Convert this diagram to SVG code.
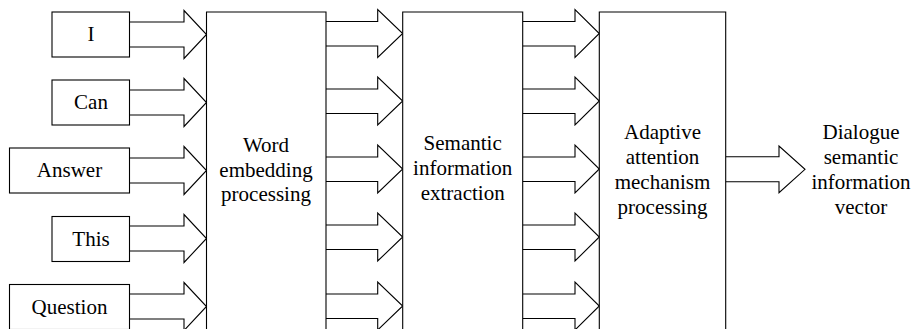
<svg xmlns="http://www.w3.org/2000/svg" width="915" height="329" viewBox="0 0 915 329">
<style>
.b{fill:#fff;stroke:#000;stroke-width:1.1}
.a{fill:#fff;stroke:#000;stroke-width:1.1;stroke-linejoin:miter}
.t{font-family:'Liberation Serif','Times New Roman',serif;font-size:21px;fill:#000;text-anchor:middle}
</style>
<rect width="915" height="329" fill="#fff"/>
<g id="connectors">
<path class="a" d="M129.5,22H184V10.5L206.5,34.5L184,58.5V47H129.5"/>
<path class="a" d="M129.5,90H184V78.5L206.5,102.5L184,126.5V115H129.5"/>
<path class="a" d="M129.5,158H184V146.5L206.5,170.5L184,194.5V183H129.5"/>
<path class="a" d="M129.5,226H184V214.5L206.5,238.5L184,262.5V251H129.5"/>
<path class="a" d="M129.5,294H184V282.5L206.5,306.5L184,330.5V319H129.5"/>
<path class="a" d="M326,21.5H377.7V9.5L402.7,33.5L377.7,57.5V46H326"/>
<path class="a" d="M326,89H377.7V77L402.7,101L377.7,125V113.5H326"/>
<path class="a" d="M326,157H377.7V145L402.7,169L377.7,193V181.5H326"/>
<path class="a" d="M326,225H377.7V213L402.7,237L377.7,261V249.5H326"/>
<path class="a" d="M326,294H377.7V282L402.7,306L377.7,330V318.5H326"/>
<path class="a" d="M522.7,21.5H575V9.5L599.3,33.5L575,57.5V46H522.7"/>
<path class="a" d="M522.7,89H575V77L599.3,101L575,125V113.5H522.7"/>
<path class="a" d="M522.7,157H575V145L599.3,169L575,193V181.5H522.7"/>
<path class="a" d="M522.7,225H575V213L599.3,237L575,261V249.5H522.7"/>
<path class="a" d="M522.7,294H575V282L599.3,306L575,330V318.5H522.7"/>
<path class="a" d="M725.7,156.7H779V146L805,169.3L779,192.7V181.7H725.7"/>
</g>
<g id="n-i"><rect class="b" x="52" y="12" width="77.5" height="45"/><text class="t" x="91" y="41">I</text></g>
<g id="n-can"><rect class="b" x="52" y="80" width="77.5" height="45"/><text class="t" x="91" y="109">Can</text></g>
<g id="n-answer"><rect class="b" x="9.5" y="148" width="120" height="45"/><text class="t" x="69.5" y="177">Answer</text></g>
<g id="n-this"><rect class="b" x="52" y="216.5" width="77.5" height="45"/><text class="t" x="91" y="245.5">This</text></g>
<g id="n-question"><rect class="b" x="9.5" y="284.5" width="120" height="45"/><text class="t" x="69.5" y="313.5">Question</text></g>
<g id="n-word"><path class="b" d="M206.5,335V12H326V335"/>
<text class="t" x="266" y="152">Word</text><text class="t" x="266" y="176.5">embedding</text><text class="t" x="266" y="201">processing</text></g>
<g id="n-semantic"><path class="b" d="M402.7,335V12H522.7V335"/>
<text class="t" x="462.7" y="150">Semantic</text><text class="t" x="462.7" y="175">information</text><text class="t" x="462.7" y="200">extraction</text></g>
<g id="n-adaptive"><path class="b" d="M599.3,335V12H725.7V335"/>
<text class="t" x="662.5" y="138.5">Adaptive</text><text class="t" x="662.5" y="163.5">attention</text><text class="t" x="662.5" y="188.5">mechanism</text><text class="t" x="662.5" y="213.5">processing</text></g>
<g id="n-output">
<text class="t" x="861" y="138.5">Dialogue</text><text class="t" x="861" y="163.5">semantic</text><text class="t" x="861" y="188.5">information</text><text class="t" x="861" y="213.5">vector</text></g>
</svg>
